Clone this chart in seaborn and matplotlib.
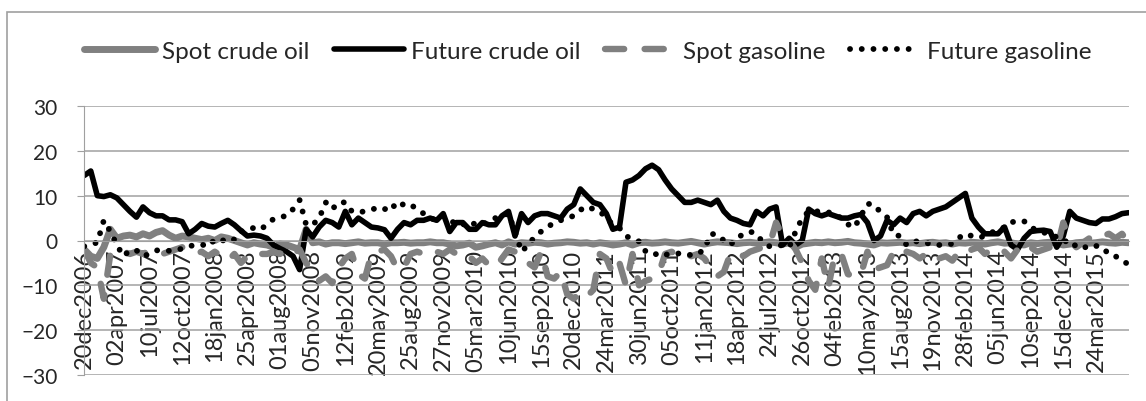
import matplotlib
matplotlib.use("Agg")
import matplotlib.pyplot as plt
import seaborn as sns
import numpy as np
import pandas as pd
from matplotlib.patches import Rectangle

# tick labels, one every 70 trading days
tick_labels = ["20dec2006", "02apr2007", "10jul2007", "12oct2007", "18jan2008", "25apr2008",
               "01aug2008", "05nov2008", "12feb2009", "20may2009", "25aug2009", "27nov2009",
               "05mar2010", "10jun2010", "15sep2010", "20dec2010", "24mar2011", "30jun2011",
               "05oct2011", "11jan2012", "18apr2012", "24jul2012", "26oct2012", "04feb2013",
               "10may2013", "15aug2013", "19nov2013", "28feb2014", "05jun2014", "10sep2014",
               "15dec2014", "24mar2015"]

# values, one every 14 trading days
spot_crude = [-2, -3.5, -4, -1.5, 2.5, 0.5, 1, 1.2, 0.8, 1.5, 1, 1.8, 2.2, 1.2, 0.5, 1, 0.8, 0.5, 0.2, 0.5,
              0, 0.8, 0.5, 0, -0.5, -1, -0.5, -0.8,
              -1, -1.5, -0.8, -1, -1.5, -2, 2.5, -0.5, -0.3, -0.8, -0.5, -0.5, -0.7, -0.5, -0.3, -0.6,
              -0.5, -0.5, -0.8, -0.5, -0.5, -0.4, -0.6, -0.5, -0.5, -0.3, -0.5,
              -0.5, -0.8, -1.2, -1, -0.6, -1.5, -1.2, -0.8, -0.5, -1, -0.3, -0.8, -0.5, -0.6, -0.4,
              -0.5, -0.8, -0.6, -0.5, -0.3, -0.4, -0.6, -0.5, -0.8, -0.5, -0.7, -1,
              -0.8, -0.5, -1, -0.5, -0.4, -0.6, -0.5, -0.3, -0.5, -0.6, -0.4, -0.2, -0.5, -0.8, -0.5,
              -0.3, -0.4, -0.5, -0.7, -0.5, -0.4, -0.6, -0.5, -0.3, -0.5, -0.8,
              -0.5, -1.5, -0.8, -0.6, -0.4, -0.5, -0.3, -0.5, -0.4, -0.2, -0.5, -0.6, -0.8, -1, -0.5,
              -0.6, -0.5, -0.4, -0.6, -0.5, -0.7, -0.5, -0.4, -0.6, -0.5, -0.8, -0.5,
              -0.6, -0.4, -0.5, -0.8, -0.5, -0.3, -0.6, -0.5, -0.8, -1, -0.5, -0.7, -0.5, -0.4, -0.6,
              -1, -0.8, -0.5, -0.4, -0.6, -0.5, -0.3, -0.5, -0.6, -0.4, -0.5]

future_crude = [14.5, 15.5, 10, 9.8, 10.2, 9.5, 8, 6.5, 5.2, 7.5, 6.2, 5.5, 5.5, 4.6, 4.6, 4.2, 1.5, 2.5,
                3.8, 3.2, 3, 3.8, 4.5, 3.5, 2.2, 1, 1.2, 1,
                0.5, -1, -1.8, -2.5, -3.5, -6.5, 2.5, 0.8, 3, 4.5, 4, 3, 6.5, 3.5, 5, 4, 3, 2.8, 2.4,
                0.5, 2.5, 4, 3.5, 4.5, 4.5, 5, 4.5,
                6, 2, 4, 4, 2.5, 2.5, 4, 3.5, 3.5, 5.5, 6.5, 1, 6, 4, 5.5, 6, 6, 5.5, 5, 7, 8, 11.5,
                10, 8.5, 8, 6, 2.5,
                3, 13, 13.5, 14.5, 16, 16.8, 15.8, 13.5, 11.5, 10, 8.5, 8.5, 9, 8.5, 8, 9, 6.5, 5, 4.5,
                3.8, 3.5, 6.5, 5.5, 7, 7.5, -1,
                0.5, -1, 0, 7, 6, 5.5, 6, 5.5, 5, 5, 5.5, 5.8, 4, 0, 1, 4.5, 3.5, 5, 4, 6, 6.5, 5.5,
                6.5, 7, 7.5, 8.5, 9.5,
                10.5, 5, 3, 1.5, 1.5, 1.5, 3, -1, -2, 0.5, 2, 2.2, 2.3, 2, -1.5, 1, 6.5, 5, 4.5, 4,
                3.8, 4.8, 4.8, 5.3, 6, 6.2]

spot_gasoline = [-2, -5, -6, -13, -3, -3.5, -2.5, -3, -2.5, -3, -2.2, -2.5, -3, -2.5, -2, -1.5, -2.5,
                 -3, -2.5, -3.5, -2.5, -3.5, -4.5, -3, -5, -3.5, -2.5, -3,
                 -3, -2.5, -3, -2, -3, -2, -5, -7, -9, -8, -9.5, -6, -4, -3, -7.5, -8.5, -3, -2.5, -2,
                 -3.5, -6.5, -6, -3, -2.5, -3, -2, -2.5,
                 -3, -2, -3, -2.5, -3.5, -5, -4, -5.5, -6, -4, -2, -2.5, -3, -5, -6, -2.5, -8, -8.5,
                 -7, -12, -13, -11.5, -12.5, -11, -3, -4, -7.5,
                 -5, -10, -3, -10, -9, -8.5, -7.5, -3, -2.5, -3.5, -2.8, -3.5, -3, -4, -6, -8, -7, -3,
                 -2.5, -3.5, -2.5, -2, -1.5, -1, 4, 1,
                 0, -2, -5, -9, -11, -4, -10.5, -3, -3, -7.5, -8, -7.5, -2.5, -6.5, -6, -5.5, -2.5,
                 -3.5, -2.5, -3, -4, -3, -2.5, -4, -3.5, -4.5, -2.5,
                 -3, -2, -1.5, -3, -2, -3, -2.5, -4, -2, -3, -1.5, -2.5, -2, -1.5, -2, 4, 0, -1.5,
                 -0.5, 0.5, 1.5, 1, 1.5, 0.5, 1.5, -0.5]

future_gasoline = [-1.3, -0.8, -0.5, 4.5, 2, -1, -3.5, -2.2, -2.2, -3.5, -3, -2.2, -2.2, -2.3, -2.2,
                   -1.8, -1.3, -1, -0.9, -1.3, 0.2, -0.2, 0.6, 0.2, 2, 2.6, 2.8, 2.4,
                   3.6, 4.8, 5.2, 5.5, 7, 9, 3.5, 3.5, 5, 8.5, 7, 8.5, 8.5, 6.5, 6.3, 6.5, 6.9, 7.3,
                   6.9, 8.2, 7, 8.3, 8, 7, 6, 5, 4.5,
                   5.5, 4.7, 3.5, 3.5, 4.3, 3.5, 3.5, 4.5, 5, 5.5, 6, 2, -2.5, -1, 0.8, 2, 3, 4, 4.5,
                   5, 5.5, 6.8, 7.6, 7, 6.5, 5, 3.5,
                   2.8, 1, 0.3, -0.2, -2.4, -2.4, -3.5, -3.2, -2.9, -2.9, -2.9, -3.3, -3, -2, 1.5, 1.3,
                   0, -1, 0.6, 1.4, 2, 1.5, -0.5, -1.3, -1.3, -1,
                   -1.5, 2, 5, 6.5, 6.5, 6.5, 6.3, 5.8, 5, 3.6, 2.9, 5.5, 8.2, 8, 6.3, 5.2, 1.3, 1, -1,
                   -0.2, -0.2, -0.5, -1, -1, -1, -0.7, 0.6,
                   1.5, 1, 0.6, 1, 1.8, 2.2, 3, 4.2, 4, 4.3, 3, 2.2, 1.8, 1.2, 0.8, 0.5, -1.3, -1, -1.8,
                   -1, -1.2, -1.5, -3.1, -3.5, -4.5, -5.3]

day = np.arange(len(future_crude)) * 14
df = pd.DataFrame({"day": day,
                   "Spot crude oil": spot_crude,
                   "Future crude oil": future_crude,
                   "Spot gasoline": spot_gasoline,
                   "Future gasoline": future_gasoline})

sns.set_style("white")
plt.rcParams["font.family"] = ["Lato", "DejaVu Sans"]

fig = plt.figure(figsize=(11.46, 4.02), dpi=100)
ax = fig.add_axes([84 / 1146, 1 - 376 / 402, (1129 - 84) / 1146, (376 - 107) / 402])

grey = "#808080"
sns.lineplot(data=df, x="day", y="Spot crude oil", ax=ax, color=grey, lw=5,
             label="Spot crude oil", solid_capstyle="round", solid_joinstyle="round")
sns.lineplot(data=df, x="day", y="Future crude oil", ax=ax, color="black", lw=4,
             label="Future crude oil", solid_capstyle="round", solid_joinstyle="round")
sns.lineplot(data=df, x="day", y="Spot gasoline", ax=ax, color=grey, lw=4.6,
             label="Spot gasoline", linestyle=(0, (3, 3.2)), dash_capstyle="round")
sns.lineplot(data=df, x="day", y="Future gasoline", ax=ax, color="black", lw=4.2,
             label="Future gasoline", linestyle=(0, (0.01, 2.0)), dash_capstyle="round")

ax.set_xlim(-0.5, 2241)
ax.set_ylim(-30, 30)
ax.set_yticks(range(-30, 31, 10))
ax.set_xticks(np.arange(len(tick_labels)) * 70)
ax.set_xticklabels(tick_labels)
ax.set_xlabel("")
ax.set_ylabel("")

ax.grid(axis="y", color="#a0a0a0", lw=1.1)
ax.grid(axis="x", visible=False)
for s in ["top", "right"]:
    ax.spines[s].set_visible(False)
ax.spines["left"].set_color("#a0a0a0")
ax.spines["bottom"].set_position(("data", 0))
ax.spines["bottom"].set_color("#a0a0a0")
ax.tick_params(axis="y", left=True, length=5, color="#a0a0a0", labelsize=15, pad=14)
ax.tick_params(axis="x", bottom=False, length=0, pad=6, labelrotation=90, labelsize=17)

handles, labels = ax.get_legend_handles_labels()
ax.get_legend().remove()
fig.legend(handles, labels, loc="center", bbox_to_anchor=(588 / 1146, 1 - 52 / 402), ncol=4,
           frameon=False, fontsize=17.5, handlelength=2.9, handletextpad=0.3, columnspacing=1.0)

# outer chart frame
fig.patches.append(Rectangle((7 / 1146, -0.1), 1.2, 1 - 13 / 402 + 0.1, transform=fig.transFigure,
                             fill=False, edgecolor="#a0a0a0", lw=1.2))

plt.savefig("out.png", dpi=100)
